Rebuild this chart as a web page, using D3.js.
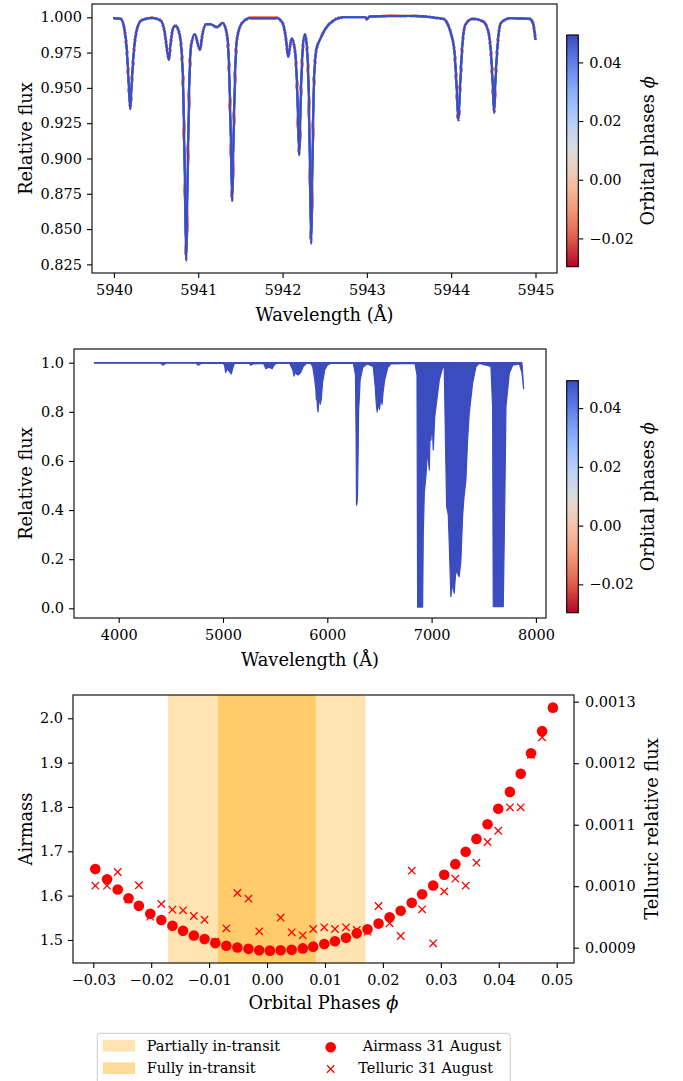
<!DOCTYPE html>
<html>
<head>
<meta charset="utf-8">
<script src="https://cdn.jsdelivr.net/npm/d3@7"></script>
<style>
  body { margin: 0; background: #fff; }
  svg, svg text { font-family: "DejaVu Serif", serif; }
</style>
</head>
<body>
<svg id="fig" width="683" height="1081"></svg>
<script>
// orbital phases of the 43 exposures (also used to colour the spectra)
const phases = [-0.02965, -0.02762, -0.02578, -0.02392, -0.02213, -0.02016, -0.01825, -0.01634, -0.01450, -0.01264,
  -0.01079, -0.00894, -0.00703, -0.00512, -0.00321, -0.00135, 0.00050, 0.00235, 0.00425, 0.00616,
  0.00797, 0.00988, 0.01172, 0.01363, 0.01549, 0.01734, 0.01925, 0.02116, 0.02307, 0.02498,
  0.02677, 0.02868, 0.03059, 0.03250, 0.03429, 0.03615, 0.03806, 0.03991, 0.04193, 0.04379,
  0.04557, 0.04748, 0.04934];

const airmass = [1.660, 1.637, 1.614, 1.594, 1.577, 1.559, 1.545, 1.532, 1.521, 1.510,
  1.502, 1.493, 1.487, 1.483, 1.480, 1.477, 1.476, 1.477, 1.478, 1.481,
  1.485, 1.491, 1.497, 1.505, 1.515, 1.524, 1.537, 1.551, 1.566, 1.584,
  1.603, 1.623, 1.647, 1.671, 1.699, 1.728, 1.761, 1.796, 1.834, 1.875,
  1.921, 1.971, 2.024];

const telluric = [0.0010008, 0.0010008, 0.0010231, 0.0009787, 0.0010015, 0.0009504, 0.0009711, 0.0009618, 0.0009608, 0.0009515,
  0.0009455, 0.0009098, 0.0009315, 0.0009889, 0.0009797, 0.0009266, 0.0008951, 0.0009488, 0.0009250, 0.0009201,
  0.0009304, 0.0009331, 0.0009304, 0.0009331, 0.0009288, 0.0009260, 0.0009678, 0.0009396, 0.0009190, 0.0010252,
  0.0009624, 0.0009071, 0.0009916, 0.0010122, 0.0010008, 0.0010382, 0.0010719, 0.0010902, 0.0011283, 0.0011283,
  0.0012138, 0.0012421, 0.0012902];

// transit limits (phase)
const partialTransit = [-0.0171, 0.0170];
const fullTransit = [-0.0085, 0.0084];

// zoomed stellar spectrum: [wavelength Å, relative flux]
const zoomSpectrum = [
  [5939.99, 0.9993], [5940.08, 0.9990], [5940.12, 0.993], [5940.155, 0.975], [5940.178, 0.950],
  [5940.194, 0.935], [5940.21, 0.952], [5940.235, 0.975], [5940.275, 0.992], [5940.33, 0.998],
  [5940.45, 0.9995], [5940.55, 0.998], [5940.60, 0.990], [5940.635, 0.975], [5940.652, 0.970],
  [5940.67, 0.980], [5940.70, 0.992], [5940.73, 0.994], [5940.77, 0.990], [5940.80, 0.978],
  [5940.822, 0.950], [5940.843, 0.880], [5940.858, 0.828], [5940.872, 0.880], [5940.893, 0.950],
  [5940.915, 0.980], [5940.96, 0.988], [5941.00, 0.980], [5941.02, 0.977], [5941.05, 0.988],
  [5941.09, 0.995], [5941.15, 0.995], [5941.22, 0.993], [5941.29, 0.996], [5941.34, 0.988],
  [5941.368, 0.960], [5941.388, 0.910], [5941.403, 0.870], [5941.417, 0.910], [5941.437, 0.960],
  [5941.46, 0.985], [5941.52, 0.996], [5941.62, 0.9995], [5941.93, 0.9995], [5942.00, 0.996],
  [5942.04, 0.985], [5942.067, 0.972], [5942.09, 0.980], [5942.11, 0.985], [5942.15, 0.975],
  [5942.173, 0.950], [5942.198, 0.9025], [5942.217, 0.945], [5942.24, 0.978], [5942.265, 0.988],
  [5942.29, 0.978], [5942.313, 0.940], [5942.328, 0.880], [5942.34, 0.840], [5942.353, 0.890],
  [5942.37, 0.950], [5942.40, 0.977], [5942.45, 0.985], [5942.55, 0.995], [5942.72, 1.000],
  [5942.98, 1.000], [5943.00, 0.9985], [5943.03, 1.0005], [5943.50, 1.001], [5943.90, 0.999],
  [5943.96, 0.995], [5944.00, 0.988], [5944.04, 0.975], [5944.065, 0.950], [5944.085, 0.927],
  [5944.105, 0.950], [5944.13, 0.978], [5944.17, 0.995], [5944.26, 0.999], [5944.38, 0.997],
  [5944.44, 0.990], [5944.475, 0.972], [5944.495, 0.950], [5944.509, 0.9325], [5944.525, 0.955],
  [5944.55, 0.980], [5944.59, 0.996], [5944.70, 0.9993], [5944.93, 0.999], [5944.97, 0.996],
  [5945.00, 0.984]
];

// full spectrum: [wavelength Å, upper flux, lowest flux of the dense telluric forest]
const fullSpectrum = [
  [3767, 1.000, 0.998], [3800, 1.000, 0.998], [4400, 1.000, 0.998], [4428, 1.000, 0.990], [4450, 1.000, 0.998],
  [4740, 1.000, 0.998], [4764, 1.000, 0.990], [4790, 1.000, 0.997], [5000, 1.000, 0.998], [5015, 1.000, 0.990],
  [5025, 1.000, 0.960], [5040, 1.000, 0.975], [5060, 1.000, 0.965], [5080, 1.000, 0.955], [5095, 1.000, 0.980],
  [5110, 1.000, 0.997], [5250, 1.000, 0.998], [5265, 1.000, 0.990], [5290, 1.000, 0.995], [5390, 1.000, 0.997],
  [5410, 1.000, 0.975], [5440, 1.000, 0.982], [5470, 1.000, 0.975], [5490, 1.000, 0.990], [5510, 1.000, 0.997],
  [5640, 1.000, 0.997], [5670, 1.000, 0.970], [5680, 1.000, 0.945], [5690, 1.000, 0.965], [5700, 1.000, 0.955],
  [5720, 1.000, 0.950], [5745, 1.000, 0.960], [5770, 1.000, 0.985], [5800, 1.000, 0.997], [5840, 1.000, 0.997],
  [5860, 1.000, 0.985], [5880, 1.000, 0.930], [5890, 1.000, 0.890], [5895, 1.000, 0.850], [5900, 1.000, 0.870],
  [5905, 1.000, 0.820], [5912, 1.000, 0.800], [5916, 1.000, 0.850], [5920, 1.000, 0.860], [5932, 1.000, 0.830],
  [5942, 1.000, 0.850], [5955, 1.000, 0.920], [5975, 1.000, 0.970], [6000, 1.000, 0.990], [6030, 1.000, 0.997],
  [6250, 1.000, 0.997], [6270, 1.000, 0.950], [6276, 1.000, 0.700], [6280, 1.000, 0.420], [6286, 1.000, 0.430],
  [6290, 1.000, 0.470], [6296, 1.000, 0.650], [6300, 1.000, 0.800], [6315, 1.000, 0.930], [6340, 1.000, 0.980],
  [6380, 1.000, 0.995], [6440, 1.000, 0.985], [6460, 1.000, 0.900], [6470, 1.000, 0.830], [6478, 1.000, 0.800],
  [6490, 1.000, 0.840], [6500, 1.000, 0.810], [6515, 1.000, 0.860], [6525, 1.000, 0.830], [6535, 1.000, 0.880],
  [6550, 1.000, 0.930], [6580, 1.000, 0.980], [6610, 1.000, 0.995], [6840, 1.000, 0.997], [6860, 1.000, 0.950],
  [6866, 1.000, 0.005], [6914, 1.000, 0.005], [6920, 1.000, 0.300], [6930, 1.000, 0.470], [6946, 1.000, 0.540],
  [6960, 1.000, 0.640], [6978, 1.000, 0.563], [6986, 1.000, 0.720], [6994, 1.000, 0.685], [7005, 1.000, 0.760],
  [7016, 1.000, 0.645], [7030, 1.000, 0.780], [7042, 1.000, 0.820], [7074, 1.000, 0.930], [7106, 1.000, 0.980],
  [7121, 1.000, 0.980], [7144, 1.000, 0.414], [7160, 1.000, 0.380], [7169, 1.000, 0.265], [7185, 1.000, 0.047],
  [7200, 1.000, 0.100], [7217, 1.000, 0.061], [7232, 1.000, 0.150], [7249, 1.000, 0.142], [7265, 1.000, 0.129],
  [7281, 1.000, 0.197], [7297, 1.000, 0.373], [7310, 1.000, 0.450], [7329, 1.000, 0.522], [7345, 1.000, 0.685],
  [7361, 1.000, 0.794], [7393, 1.000, 0.916], [7425, 1.000, 0.984], [7457, 1.000, 0.997], [7569, 1.000, 0.985],
  [7585, 1.000, 0.820], [7591, 1.000, 0.007], [7687, 1.000, 0.007], [7703, 1.000, 0.480], [7713, 1.000, 0.820],
  [7745, 1.000, 0.957], [7777, 1.000, 0.990], [7841, 1.000, 0.995], [7866, 1.000, 0.960], [7882, 0.900, 0.895]
];

// tick values
const zoomXTicks = [5940, 5941, 5942, 5943, 5944, 5945];
const zoomYTicks = [0.825, 0.850, 0.875, 0.900, 0.925, 0.950, 0.975, 1.000];
const fullXTicks = [4000, 5000, 6000, 7000, 8000];
const fullYTicks = [0.0, 0.2, 0.4, 0.6, 0.8, 1.0];
const cbarTicks = [-0.02, 0.00, 0.02, 0.04];
const phaseTicks = [-0.03, -0.02, -0.01, 0.00, 0.01, 0.02, 0.03, 0.04, 0.05];
const airmassTicks = [1.5, 1.6, 1.7, 1.8, 1.9, 2.0];
const telluricTicks = [0.0009, 0.0010, 0.0011, 0.0012, 0.0013];

///////////////////////////////////////////////////
// colour map (matplotlib coolwarm, reversed)
///////////////////////////////////////////////////
const coolwarm = d3.scaleLinear()
  .domain([0, 0.125, 0.25, 0.375, 0.5, 0.625, 0.75, 0.875, 1])
  .range(['#3b4cc0', '#6282ea', '#8db0fe', '#b8d0f9', '#dddddd', '#f5c4ad', '#f49a7b', '#de604d', '#b40426'])
  .interpolate(d3.interpolateRgb);
const phaseExtent = d3.extent(phases);
const phaseColor = (p) => coolwarm(1 - (p - phaseExtent[0]) / (phaseExtent[1] - phaseExtent[0]));

const svg = d3.select('#fig');
const defs = svg.append('defs');
const SERIF = '"DejaVu Serif", serif';

function frame(g, x0, y0, x1, y1) {
  g.append('rect')
    .attr('x', x0).attr('y', y0)
    .attr('width', x1 - x0).attr('height', y1 - y0)
    .attr('fill', 'none').attr('stroke', '#000').attr('stroke-width', 1.1);
}

// d3 puts sans-serif on the axis group: force the serif font on the labels
function styleAxis(sel) {
  sel.attr('font-family', SERIF).attr('font-size', 14.5);
  sel.select('.domain').remove();
  sel.selectAll('.tick line').attr('stroke', '#000').attr('stroke-width', 1.1);
  sel.selectAll('.tick text')
    .attr('fill', '#000')
    .style('font-family', SERIF)
    .style('font-size', '14.5px');
}

function xLabel(text, x, y, phi) {
  const t = svg.append('text').attr('x', x).attr('y', y)
    .attr('text-anchor', 'middle').attr('font-size', 17.8).text(text);
  if (phi) t.append('tspan').attr('font-style', 'italic').text('ϕ');
}

function yLabel(text, x, y, phi) {
  const t = svg.append('text')
    .attr('transform', `translate(${x},${y}) rotate(-90)`)
    .attr('text-anchor', 'middle').attr('font-size', 17.8).text(text);
  if (phi) t.append('tspan').attr('font-style', 'italic').text('ϕ');
}

function colorbar(id, x0, y0, x1, y1) {
  const grad = defs.append('linearGradient').attr('id', id)
    .attr('x1', 0).attr('y1', 1).attr('x2', 0).attr('y2', 0);
  d3.range(0, 1.0001, 0.05).forEach((t) => {
    const p = phaseExtent[0] + t * (phaseExtent[1] - phaseExtent[0]);
    grad.append('stop').attr('offset', t).attr('stop-color', phaseColor(p));
  });
  svg.append('rect').attr('x', x0).attr('y', y0)
    .attr('width', x1 - x0).attr('height', y1 - y0)
    .attr('fill', `url(#${id})`).attr('stroke', '#000').attr('stroke-width', 1.1);
  const cy = d3.scaleLinear().domain(phaseExtent).range([y1, y0]);
  svg.append('g').attr('transform', `translate(${x1},0)`)
    .call(d3.axisRight(cy).tickValues(cbarTicks).tickFormat(d3.format('.2f')).tickSize(5).tickPadding(6))
    .call(styleAxis);
  yLabel('Orbital phases ', 654, (y0 + y1) / 2, true);
}

///////////////////////////////////////////////////
// Panel 1 : zoom on the Na region
///////////////////////////////////////////////////
{
  const L = 92, R = 557, T = 4, B = 273;
  const x = d3.scaleLinear().domain([5939.74, 5945.255]).range([L, R]);
  const y = d3.scaleLinear().domain([0.8189, 1.0094]).range([B, T]);
  const g = svg.append('g');
  const line = d3.line().x((d) => x(d[0])).y((d) => y(d[1])).curve(d3.curveMonotoneX);
  const width = d3.scaleLinear().domain(phaseExtent).range([2.5, 1.5]);
  g.selectAll('path.spec')
    .data(phases)
    .join('path')
    .attr('class', 'spec')
    .attr('d', line(zoomSpectrum))
    .attr('fill', 'none')
    .attr('stroke', (p) => phaseColor(p))
    .attr('stroke-width', (p) => width(p))
    .attr('stroke-linejoin', 'round');
  svg.append('g').attr('transform', `translate(0,${B})`)
    .call(d3.axisBottom(x).tickValues(zoomXTicks).tickFormat(d3.format('d')).tickSize(5).tickPadding(7))
    .call(styleAxis);
  svg.append('g').attr('transform', `translate(${L},0)`)
    .call(d3.axisLeft(y).tickValues(zoomYTicks).tickFormat(d3.format('.3f')).tickSize(5).tickPadding(5))
    .call(styleAxis);
  frame(svg, L, T, R, B);
  xLabel('Wavelength (Å)', (L + R) / 2, 320.5);
  yLabel('Relative flux', 31.5, (T + B) / 2);
  colorbar('cb1', 566.7, 35, 578.3, 266.7);
}

///////////////////////////////////////////////////
// Panel 2 : full spectrum
///////////////////////////////////////////////////
{
  const L = 74, R = 546, T = 349, B = 618;
  const x = d3.scaleLinear().domain([3571.4, 8096.8]).range([L, R]);
  const y = d3.scaleLinear().domain([-0.0395, 1.0558]).range([B, T]);
  const area = d3.area().x((d) => x(d[0])).y0((d) => y(d[1])).y1((d) => y(d[2]));
  svg.append('path')
    .attr('d', area(fullSpectrum))
    .attr('fill', phaseColor(phaseExtent[1]))
    .attr('stroke', phaseColor(phaseExtent[1]))
    .attr('stroke-width', 1.2)
    .attr('stroke-linejoin', 'round');
  svg.append('g').attr('transform', `translate(0,${B})`)
    .call(d3.axisBottom(x).tickValues(fullXTicks).tickFormat(d3.format('d')).tickSize(5).tickPadding(7))
    .call(styleAxis);
  svg.append('g').attr('transform', `translate(${L},0)`)
    .call(d3.axisLeft(y).tickValues(fullYTicks).tickFormat(d3.format('.1f')).tickSize(5).tickPadding(5))
    .call(styleAxis);
  frame(svg, L, T, R, B);
  xLabel('Wavelength (Å)', (L + R) / 2, 666);
  yLabel('Relative flux', 31.5, (T + B) / 2);
  colorbar('cb2', 566.7, 380.7, 578.3, 612.7);
}

///////////////////////////////////////////////////
// Panel 3 : airmass and telluric flux
///////////////////////////////////////////////////
{
  const L = 73, R = 574, T = 695, B = 963;
  const x = d3.scaleLinear().domain([-0.0335, 0.05299]).range([L, R]);
  const yA = d3.scaleLinear().domain([1.4481, 2.0525]).range([B, T]);
  const yT = d3.scaleLinear().domain([0.00087512, 0.0013109]).range([B, T]);

  svg.append('rect').attr('x', x(partialTransit[0])).attr('y', T)
    .attr('width', x(partialTransit[1]) - x(partialTransit[0])).attr('height', B - T)
    .attr('fill', 'orange').attr('fill-opacity', 0.3);
  svg.append('rect').attr('x', x(fullTransit[0])).attr('y', T)
    .attr('width', x(fullTransit[1]) - x(fullTransit[0])).attr('height', B - T)
    .attr('fill', 'orange').attr('fill-opacity', 0.4);

  svg.append('g').selectAll('circle')
    .data(phases)
    .join('circle')
    .attr('cx', (d) => x(d))
    .attr('cy', (d, i) => yA(airmass[i]))
    .attr('r', 5.3)
    .attr('fill', 'red');

  const s = 3.7;
  svg.append('g').selectAll('path')
    .data(phases)
    .join('path')
    .attr('transform', (d, i) => `translate(${x(d)},${yT(telluric[i])})`)
    .attr('d', `M${-s},${-s}L${s},${s}M${-s},${s}L${s},${-s}`)
    .attr('stroke', 'red').attr('stroke-width', 1.3).attr('fill', 'none');

  svg.append('g').attr('transform', `translate(0,${B})`)
    .call(d3.axisBottom(x).tickValues(phaseTicks).tickFormat(d3.format('.2f')).tickSize(5).tickPadding(7))
    .call(styleAxis);
  svg.append('g').attr('transform', `translate(${L},0)`)
    .call(d3.axisLeft(yA).tickValues(airmassTicks).tickFormat(d3.format('.1f')).tickSize(5).tickPadding(5))
    .call(styleAxis);
  svg.append('g').attr('transform', `translate(${R},0)`)
    .call(d3.axisRight(yT).tickValues(telluricTicks).tickFormat(d3.format('.4f')).tickSize(5).tickPadding(6))
    .call(styleAxis);
  frame(svg, L, T, R, B);
  xLabel('Orbital Phases ', (L + R) / 2, 1009, true);
  yLabel('Airmass', 31.5, (T + B) / 2);
  yLabel('Telluric relative flux', 658, (T + B) / 2);

  // legend
  const lg = svg.append('g');
  lg.append('rect').attr('x', 97.3).attr('y', 1033.3).attr('width', 413).attr('height', 60)
    .attr('rx', 3).attr('fill', '#fff').attr('stroke', '#cccccc').attr('stroke-width', 1);
  lg.append('rect').attr('x', 102.7).attr('y', 1040).attr('width', 32.3).attr('height', 11.7)
    .attr('fill', 'orange').attr('fill-opacity', 0.3);
  lg.append('rect').attr('x', 102.7).attr('y', 1062.3).attr('width', 32.3).attr('height', 11.7)
    .attr('fill', 'orange').attr('fill-opacity', 0.4);
  lg.append('text').attr('x', 146.7).attr('y', 1051).attr('font-size', 14.5).text('Partially in-transit');
  lg.append('text').attr('x', 146.7).attr('y', 1073.3).attr('font-size', 14.5).text('Fully in-transit');
  lg.append('circle').attr('cx', 330.7).attr('cy', 1047.3).attr('r', 5.3).attr('fill', 'red');
  lg.append('path').attr('transform', 'translate(330.7,1069)')
    .attr('d', `M${-s},${-s}L${s},${s}M${-s},${s}L${s},${-s}`)
    .attr('stroke', 'red').attr('stroke-width', 1.3);
  lg.append('text').attr('x', 362.7).attr('y', 1051).attr('font-size', 14.5).text('Airmass 31 August');
  lg.append('text').attr('x', 358.3).attr('y', 1073.3).attr('font-size', 14.5).text('Telluric 31 August');
}
</script>
</body>
</html>
